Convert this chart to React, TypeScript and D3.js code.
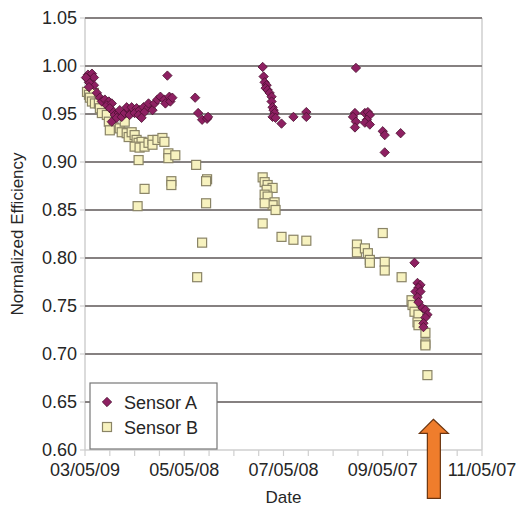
import React from "react";
import * as d3 from "d3";

const xTickLabels = ["03/05/09", "05/05/08", "07/05/08", "09/05/07", "11/05/07"];
const yTicks = [0.6, 0.65, 0.7, 0.75, 0.8, 0.85, 0.9, 0.95, 1.0, 1.05];
const seriesNames = ["Sensor A", "Sensor B"];
const arrowX = 3.51;
const arrowTipY = 0.632;

// [x position in axis-label units (0 = first label), normalized efficiency]
const sensorA: [number, number][] = [
  [0.03, 0.991], [0.07, 0.992], [0.02, 0.987], [0.09, 0.988], [0.05, 0.982], [0.09, 0.98],
  [0.04, 0.983], [0.01, 0.988], [0.04, 0.978], [0.12, 0.972], [0.15, 0.967], [0.17, 0.963],
  [0.2, 0.965], [0.24, 0.963], [0.22, 0.959], [0.27, 0.961], [0.25, 0.956], [0.29, 0.952],
  [0.3, 0.949], [0.34, 0.951], [0.35, 0.954], [0.27, 0.942], [0.32, 0.946], [0.37, 0.947],
  [0.4, 0.951], [0.44, 0.954], [0.42, 0.957], [0.45, 0.949], [0.49, 0.954], [0.47, 0.957],
  [0.52, 0.956], [0.5, 0.951], [0.55, 0.954], [0.54, 0.949], [0.59, 0.957], [0.6, 0.952],
  [0.57, 0.946], [0.64, 0.957], [0.68, 0.954], [0.64, 0.961], [0.7, 0.961], [0.73, 0.965],
  [0.76, 0.968], [0.8, 0.965], [0.81, 0.961], [0.85, 0.968], [0.86, 0.963], [0.88, 0.967],
  [0.83, 0.99], [1.11, 0.967], [1.14, 0.951], [1.18, 0.944], [1.23, 0.945], [1.24, 0.947],
  [1.79, 0.999], [1.8, 0.989], [1.81, 0.983], [1.83, 0.98], [1.82, 0.977], [1.84, 0.975],
  [1.86, 0.972], [1.88, 0.968], [1.88, 0.963], [1.89, 0.957], [1.9, 0.954], [1.91, 0.951],
  [1.89, 0.947], [1.92, 0.946], [1.98, 0.94], [2.1, 0.947], [2.23, 0.952], [2.23, 0.947],
  [2.73, 0.998], [2.72, 0.951], [2.7, 0.947], [2.73, 0.942], [2.72, 0.936], [2.82, 0.951],
  [2.85, 0.952], [2.87, 0.949], [2.84, 0.944], [2.82, 0.941], [2.87, 0.939], [3.0, 0.932],
  [3.02, 0.928], [3.18, 0.93], [3.02, 0.91], [3.32, 0.795], [3.35, 0.774], [3.38, 0.772],
  [3.36, 0.769], [3.33, 0.765], [3.38, 0.765], [3.35, 0.759], [3.36, 0.754], [3.4, 0.748],
  [3.43, 0.746], [3.45, 0.741], [3.43, 0.738], [3.41, 0.732], [3.41, 0.728],
];

const sensorB: [number, number][] = [
  [0.02, 0.973], [0.04, 0.97], [0.09, 0.972], [0.05, 0.967], [0.07, 0.963], [0.1, 0.961],
  [0.14, 0.961], [0.15, 0.956], [0.17, 0.951], [0.22, 0.949], [0.24, 0.942], [0.29, 0.936],
  [0.25, 0.933], [0.35, 0.935], [0.4, 0.942], [0.37, 0.931], [0.42, 0.93], [0.44, 0.926],
  [0.47, 0.931], [0.5, 0.928], [0.52, 0.923], [0.54, 0.92], [0.57, 0.921], [0.5, 0.916],
  [0.55, 0.915], [0.6, 0.916], [0.64, 0.92], [0.68, 0.923], [0.68, 0.918], [0.73, 0.923],
  [0.78, 0.925], [0.8, 0.921], [0.54, 0.902], [0.84, 0.909], [0.84, 0.904], [0.91, 0.907],
  [1.12, 0.897], [0.87, 0.88], [0.87, 0.876], [1.23, 0.882], [1.22, 0.88], [0.6, 0.872],
  [0.53, 0.854], [1.22, 0.857], [1.18, 0.816], [1.13, 0.78], [1.79, 0.884], [1.81, 0.879],
  [1.84, 0.876], [1.89, 0.873], [1.83, 0.871], [1.81, 0.866], [1.84, 0.864], [1.91, 0.858],
  [1.89, 0.855], [1.92, 0.85], [1.81, 0.857], [1.79, 0.836], [1.98, 0.822], [2.1, 0.819],
  [2.23, 0.818], [3.0, 0.826], [2.74, 0.814], [2.74, 0.806], [2.82, 0.81], [2.85, 0.805],
  [2.87, 0.798], [2.87, 0.795], [3.02, 0.796], [3.02, 0.787], [3.19, 0.78], [3.29, 0.756],
  [3.3, 0.751], [3.32, 0.744], [3.36, 0.741], [3.35, 0.733], [3.36, 0.73], [3.43, 0.722],
  [3.43, 0.711], [3.43, 0.709], [3.45, 0.678],
];

const W = 522;
const H = 507;
const M = { left: 85, right: 40, top: 18, bottom: 57 };
const FONT = "'Liberation Sans', Arial, sans-serif";

const A_FILL = "#8e2062";
const A_STROKE = "#4a1030";
const B_FILL = "#f7f2bf";
const B_STROKE = "#8a8466";
const TEXT = "#262626";

export default function App() {
  const x = d3.scaleLinear().domain([0, 4]).range([M.left, W - M.right]);
  const y = d3.scaleLinear().domain([0.6, 1.05]).range([H - M.bottom, M.top]);
  const minorTicks = d3.range(0, 4.001, 0.25);
  const diamond = d3.symbol().type(d3.symbolDiamond2).size(56)();
  const x0 = x.range()[0];
  const x1 = x.range()[1];
  const yb = y.range()[0];

  const ax = x(arrowX);
  const at = y(arrowTipY);
  const arrowPts = [
    [ax, at],
    [ax + 15, at + 14],
    [ax + 7, at + 14],
    [ax + 7, at + 79],
    [ax - 6, at + 79],
    [ax - 6, at + 14],
    [ax - 14, at + 14],
  ];

  return (
    <svg
      width={W}
      height={H}
      style={{ position: "absolute", left: 0, top: 0, background: "#fff" }}
      fontFamily={FONT}
    >
      {/* plot frame */}
      <line x1={x0} x2={x0} y1={y.range()[1]} y2={yb} stroke="#cfcfcf" strokeWidth={1.5} />
      <line x1={x1} x2={x1} y1={y.range()[1]} y2={yb} stroke="#cfcfcf" strokeWidth={1.5} />
      <line x1={x0} x2={x1} y1={yb} y2={yb} stroke="#cfcfcf" strokeWidth={1.5} />
      {/* gridlines + y ticks */}
      {yTicks.map((t) => (
        <g key={t}>
          {t > 0.6 && (
            <line x1={x0} x2={x1} y1={y(t)} y2={y(t)} stroke="#868181" strokeWidth={1.8} />
          )}
          <line x1={x0 - 5} x2={x0} y1={y(t)} y2={y(t)} stroke="#cfcfcf" strokeWidth={1.2} />
          <text
            x={x0 - 8}
            y={y(t)}
            dy="0.36em"
            textAnchor="end"
            fontSize={18}
            fill={TEXT}
          >
            {t.toFixed(2)}
          </text>
        </g>
      ))}
      {/* x ticks */}
      {minorTicks.map((t) => (
        <line key={t} x1={x(t)} x2={x(t)} y1={yb} y2={yb + 6} stroke="#cfcfcf" strokeWidth={1.2} />
      ))}
      {xTickLabels.map((l, i) => (
        <text key={l} x={x(i)} y={yb + 26} textAnchor="middle" fontSize={18} fill={TEXT}>
          {l}
        </text>
      ))}
      <text x={(x0 + x1) / 2} y={H - 4} textAnchor="middle" fontSize={17} fill={TEXT}>
        Date
      </text>
      <text
        transform={`translate(23,${(y.range()[0] + y.range()[1]) / 2}) rotate(-90)`}
        textAnchor="middle"
        fontSize={17}
        fill={TEXT}
      >
        Normalized Efficiency
      </text>

      {/* Sensor B squares */}
      {sensorB.map((d, i) => (
        <rect
          key={"b" + i}
          x={x(d[0]) - 4.5}
          y={y(d[1]) - 4.5}
          width={9}
          height={9}
          fill={B_FILL}
          stroke={B_STROKE}
          strokeWidth={1.2}
        />
      ))}
      {/* Sensor A diamonds */}
      {sensorA.map((d, i) => (
        <path
          key={"a" + i}
          d={diamond as string}
          transform={`translate(${x(d[0])},${y(d[1])})`}
          fill={A_FILL}
          stroke={A_STROKE}
          strokeWidth={0.8}
        />
      ))}

      {/* legend */}
      <g transform="translate(90,383)">
        <rect x={0} y={0} width={127} height={66} fill="#fff" stroke="#777" strokeWidth={1.2} />
        <path d={diamond as string} transform="translate(17,19)" fill={A_FILL} stroke={A_STROKE} strokeWidth={0.8} />
        <text x={34} y={26} fontSize={18} fill={TEXT}>{seriesNames[0]}</text>
        <rect x={12.5} y={39.5} width={9} height={9} fill={B_FILL} stroke={B_STROKE} strokeWidth={1.2} />
        <text x={34} y={51} fontSize={18} fill={TEXT}>{seriesNames[1]}</text>
      </g>

      {/* arrow annotation */}
      <polygon
        points={arrowPts.map((p) => p.join(",")).join(" ")}
        fill="#ef7d2c"
        stroke="#6b3510"
        strokeWidth={1.2}
      />
    </svg>
  );
}
